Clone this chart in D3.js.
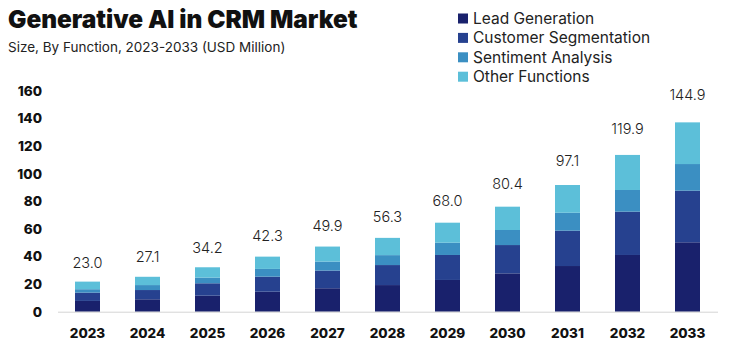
<!DOCTYPE html>
<html>
<head>
<meta charset="utf-8">
<script src="https://cdn.jsdelivr.net/npm/d3@7"></script>
<style>
  body { margin: 0; background: #fff; }
  svg { display: block; font-family: "Inter", "Open Sans", sans-serif; }
</style>
</head>
<body>
<div class="chart"></div>
<script>
var years = ["2023", "2024", "2025", "2026", "2027", "2028", "2029", "2030", "2031", "2032", "2033"];
var totals = ["23.0", "27.1", "34.2", "42.3", "49.9", "56.3", "68.0", "80.4", "97.1", "119.9", "144.9"];
var seriesNames = ["Lead Generation", "Customer Segmentation", "Sentiment Analysis", "Other Functions"];
var leadGeneration = [7.8, 9.0, 11.6, 14.5, 17.0, 19.3, 23.0, 27.8, 33.1, 41.1, 50.3];
var customerSegmentation = [6.0, 6.7, 9.0, 10.9, 12.8, 14.5, 18.1, 20.5, 25.6, 31.4, 37.4];
var sentimentAnalysis = [2.5, 3.6, 4.1, 5.6, 6.5, 7.2, 8.9, 10.9, 13.0, 15.7, 19.3];
var otherFunctions = [5.5, 6.0, 7.5, 8.9, 10.9, 12.5, 14.5, 16.9, 20.1, 25.4, 30.2];
var yTicks = [0, 20, 40, 60, 80, 100, 120, 140, 160];
var colors = ["#19216c", "#26418f", "#3b8fc2", "#5cbfd9"];

function init(){
  var w = 735;
  var h = 349;

  var rows = years.map(function(y, i){
    return {
      year: y,
      total: +totals[i],
      label: totals[i],
      s0: leadGeneration[i],
      s1: customerSegmentation[i],
      s2: sentimentAnalysis[i],
      s3: otherFunctions[i]
    };
  });

  var stack = d3.stack().keys(["s0", "s1", "s2", "s3"]);
  var stacked = stack(rows);

  var svg = d3.select(".chart")
              .append("svg")
              .attr("width", w)
              .attr("height", h);

  var x = d3.scaleBand()
            .domain(years)
            .range([57.5, 717.5])
            .paddingInner(35 / 60)
            .paddingOuter(0.2917);

  var y = d3.scaleLinear()
            .domain([0, 160])
            .range([311.7, 90.9]);

  // title
  svg.append("text")
      .attr("x", 8)
      .attr("y", 28)
      .style("font-size", "24.4px")
      .style("font-weight", "900")
      .attr("fill", "#111")
      .text("Generative AI in CRM Market");

  svg.append("text")
      .attr("x", 8)
      .attr("y", 52)
      .style("font-size", "13.5px")
      .attr("fill", "#222")
      .text("Size, By Function, 2023-2033 (USD Million)");

  // legend
  var legend = svg.append("g")
                  .selectAll("g")
                  .data(seriesNames)
                  .join("g")
                    .attr("transform", function(d, i){
                      return "translate(458," + (18.5 + i * 19.4) + ")";
                    });

  legend.append("rect")
        .attr("x", 0)
        .attr("y", -5)
        .attr("width", 10)
        .attr("height", 10)
        .attr("fill", function(d, i){ return colors[i]; });

  legend.append("text")
        .attr("x", 15)
        .attr("dy", "0.35em")
        .style("font-size", "15.5px")
        .attr("fill", "#222")
        .text(function(d){ return d; });

  // axes
  var yAxis = d3.axisLeft(y)
                .tickValues(yTicks)
                .tickSize(0)
                .tickPadding(0);

  var yG = svg.append("g")
              .attr("transform", "translate(42,0)")
              .call(yAxis);
  yG.select(".domain").remove();
  yG.selectAll("text")
    .style("font-size", "13.5px")
    .style("font-weight", "800")
    .style("font-family", "Inter, sans-serif")
    .attr("fill", "#111");

  // bars
  svg.append("g")
      .selectAll("g")
      .data(stacked)
      .join("g")
        .attr("fill", function(d, i){ return colors[i]; })
      .selectAll("rect")
      .data(function(d){ return d; })
      .join("rect")
        .attr("x", function(d){ return x(d.data.year); })
        .attr("y", function(d){ return y(d[1]); })
        .attr("width", x.bandwidth())
        .attr("height", function(d){ return y(d[0]) - y(d[1]); });

  var xAxis = d3.axisBottom(x)
                .tickSize(0)
                .tickPadding(17);

  var xG = svg.append("g")
              .attr("transform", "translate(0,311.7)")
              .call(xAxis);
  xG.select(".domain").attr("stroke", "#d4d4d4");
  xG.selectAll("text")
    .style("font-size", "13.5px")
    .style("font-weight", "800")
    .style("font-family", "Inter, sans-serif")
    .attr("fill", "#111");

  // total labels
  svg.append("g")
      .selectAll("text")
      .data(rows)
      .join("text")
        .attr("x", function(d){ return x(d.year) + x.bandwidth() / 2; })
        .attr("y", function(d){ return y(d.total) - 12; })
        .attr("text-anchor", "middle")
        .style("font-size", "14.5px")
        .style("font-weight", "300")
        .attr("fill", "#222")
        .text(function(d){ return d.label; });
}

window.onload = init;
</script>
</body>
</html>
